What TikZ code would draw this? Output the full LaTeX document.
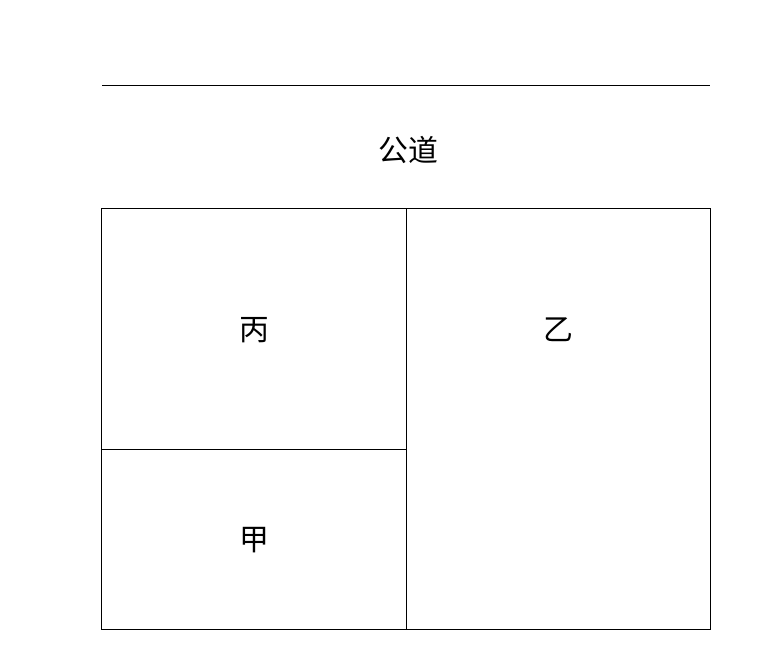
\documentclass[tikz,border=0pt]{standalone}
\usepackage{fontspec}
\newfontfamily\cjk{Noto Sans CJK SC}
\begin{document}
\begin{tikzpicture}[x=0.02cm,y=-0.02cm,thin]
  \tikzstyle{plot}=[font=\cjk\fontsize{17}{19}\selectfont,inner sep=0pt]
  \useasboundingbox (0,0) rectangle (765,670);
  \coordinate (R_w) at (102,85);
  \coordinate (R_e) at (710,85);
  \draw (R_w) -- (R_e);
  \node[plot] (road) at (408,150) {公道};
  \draw (101,208) rectangle (710,629);
  \draw (406,208) -- (406,629);
  \draw (101,449) -- (406,449);
  \node[plot] (P_bing) at (254,330) {丙};
  \node[plot] (P_yi)   at (558,330) {乙};
  \node[plot] (P_jia)  at (254,540) {甲};
\end{tikzpicture}
\end{document}
